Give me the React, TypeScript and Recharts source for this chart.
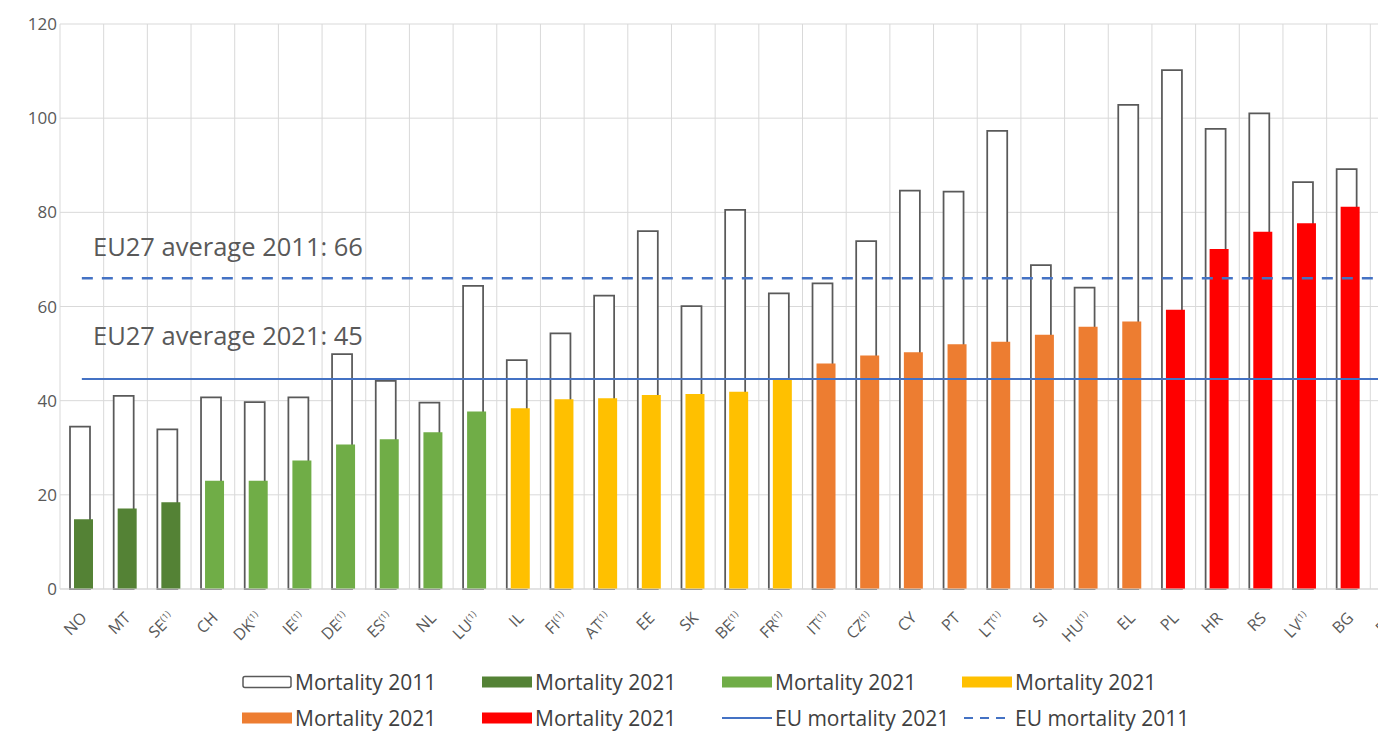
import React from 'react'
import {
  Bar, CartesianGrid, Cell, ComposedChart, Legend, Line, ReferenceLine, XAxis, YAxis,
} from 'recharts'

const countries = [
  'NO', 'MT', 'SE', 'CH', 'DK', 'IE', 'DE', 'ES', 'NL', 'LU', 'IL', 'FI', 'AT', 'EE', 'SK', 'BE',
  'FR', 'IT', 'CZ', 'CY', 'PT', 'LT', 'SI', 'HU', 'EL', 'PL', 'HR', 'RS', 'LV', 'BG', 'RO',
]
const footnoted = ['SE', 'DK', 'IE', 'DE', 'ES', 'LU', 'FI', 'AT', 'BE', 'FR', 'IT', 'CZ', 'LT', 'HU', 'LV']
const mortality2011 = [
  34.5, 41.0, 33.9, 40.7, 39.7, 40.7, 49.9, 44.2, 39.6, 64.4, 48.6, 54.3, 62.3, 76.0, 60.1, 80.5,
  62.8, 64.9, 73.9, 84.6, 84.4, 97.3, 68.8, 64.0, 102.8, 110.2, 97.7, 101.0, 86.4, 89.2, 96.0,
]
const mortality2021 = [
  14.8, 17.1, 18.4, 23.0, 23.0, 27.3, 30.7, 31.8, 33.3, 37.7, 38.4, 40.3, 40.5, 41.2, 41.4, 41.9,
  44.4, 47.9, 49.6, 50.3, 52.0, 52.5, 54.0, 55.7, 56.8, 59.3, 72.2, 75.9, 77.7, 81.2, 85.0,
]
// colour group of each country's 2021 bar
const groups = [
  0, 0, 0, 1, 1, 1, 1, 1, 1, 1, 2, 2, 2, 2, 2, 2,
  2, 3, 3, 3, 3, 3, 3, 3, 3, 4, 4, 4, 4, 4, 4,
]
const EU_2021 = 44.6
const EU_2011 = 66
const yTicks = [0, 20, 40, 60, 80, 100, 120]

const GROUP_COLORS = ['#548235', '#70ad47', '#ffc000', '#ed7d31', '#ff0000']
const BLUE = '#4472c4'
const GRID = '#d9d9d9'
const TEXT = '#595959'
const FONT = '"Open Sans", sans-serif'

const data = countries.map((c, i) => ({
  country: c,
  m2011: mortality2011[i],
  m2021: mortality2021[i],
  eu2021: EU_2021,
  eu2011: EU_2011,
}))

function CountryTick({ x, y, payload }: any) {
  const code = payload.value as string
  return (
    <g transform={`translate(${x + 2},${y + 18})`}>
      <text transform="rotate(-45)" textAnchor="end" dy="0.35em" fill={TEXT} fontSize={16} fontFamily={FONT}>
        {code}
        {footnoted.includes(code) && <tspan fontSize={9} dy={-6}>(1)</tspan>}
      </text>
    </g>
  )
}

function AvgLabel({ viewBox, text, dy }: any) {
  return (
    <text x={viewBox.x + 33} y={viewBox.y + dy} fill={TEXT} fontSize={25.5} fontFamily={FONT}>
      {text}
    </text>
  )
}

const legendItems = [
  { label: 'Mortality 2011', kind: 'outline', color: '#595959' },
  { label: 'Mortality 2021', kind: 'fill', color: GROUP_COLORS[0] },
  { label: 'Mortality 2021', kind: 'fill', color: GROUP_COLORS[1] },
  { label: 'Mortality 2021', kind: 'fill', color: GROUP_COLORS[2] },
  { label: 'Mortality 2021', kind: 'fill', color: GROUP_COLORS[3] },
  { label: 'Mortality 2021', kind: 'fill', color: GROUP_COLORS[4] },
  { label: 'EU mortality 2021', kind: 'line', color: BLUE },
  { label: 'EU mortality 2011', kind: 'dash', color: BLUE },
]

function Swatch({ kind, color }: { kind: string; color: string }) {
  return (
    <svg width={50} height={14} style={{ flex: 'none' }}>
      {kind === 'outline' && <rect x={1} y={1.5} width={48} height={11} fill="#fff" stroke={color} strokeWidth={1.5} rx={2} />}
      {kind === 'fill' && <rect x={0} y={1.5} width={50} height={11} fill={color} />}
      {kind === 'line' && <line x1={0} x2={50} y1={7} y2={7} stroke={color} strokeWidth={2} />}
      {kind === 'dash' && <line x1={2} x2={50} y1={7} y2={7} stroke={color} strokeWidth={2} strokeDasharray="9 7" />}
    </svg>
  )
}

function LegendBox() {
  return (
    <div
      style={{
        display: 'grid',
        gridTemplateColumns: 'repeat(4, 240px)',
        gridAutoRows: 36,
        paddingLeft: 242,
        paddingTop: 15,
        height: 80,
        boxSizing: 'border-box',
        fontFamily: FONT,
        fontSize: 21,
        color: '#404040',
      }}
    >
      {legendItems.map((it, i) => (
        <div key={i} style={{ display: 'flex', alignItems: 'center', gap: 3, whiteSpace: 'nowrap' }}>
          <Swatch kind={it.kind} color={it.color} />
          <span>{it.label}</span>
        </div>
      ))}
    </div>
  )
}

export default function App() {
  return (
    <div style={{ position: 'absolute', left: 0, top: 0, width: 1378, height: 731, overflow: 'hidden', background: '#fff' }}>
      <ComposedChart
        width={1420}
        height={731}
        data={data}
        margin={{ top: 24, right: 6, left: 8, bottom: 2 }}
        barGap={-16}
      >
        <CartesianGrid
          stroke={GRID}
          verticalCoordinatesGenerator={({ offset }: any) =>
            Array.from({ length: countries.length + 1 }, (_, i) => offset.left + (i * offset.width) / countries.length)
          }
        />
        <XAxis
          dataKey="country"
          interval={0}
          tickLine={false}
          axisLine={{ stroke: GRID }}
          height={60}
          tick={<CountryTick />}
        />
        <YAxis
          domain={[0, 120]}
          ticks={yTicks}
          width={52}
          axisLine={false}
          tickLine={false}
          tickSize={3}
          tickMargin={0}
          tick={{ fill: TEXT, fontSize: 17, fontFamily: FONT }}
        />
        <Bar dataKey="m2011" barSize={20} fill="#fff" stroke="#595959" strokeWidth={1.75} isAnimationActive={false} />
        <Bar dataKey="m2021" barSize={19} isAnimationActive={false}>
          {data.map((_, i) => (
            <Cell key={i} fill={GROUP_COLORS[groups[i]]} />
          ))}
        </Bar>
        <Line dataKey="eu2021" stroke={BLUE} strokeWidth={2} dot={false} activeDot={false} isAnimationActive={false} />
        <Line
          dataKey="eu2011"
          stroke={BLUE}
          strokeWidth={2.5}
          strokeDasharray="11 9"
          dot={false}
          activeDot={false}
          isAnimationActive={false}
        />
        <ReferenceLine y={EU_2011} stroke="none" label={<AvgLabel text="EU27 average 2011: 66" dy={-22} />} />
        <ReferenceLine y={EU_2021} stroke="none" label={<AvgLabel text="EU27 average 2021: 45" dy={-34} />} />
        <Legend
          verticalAlign="bottom"
          height={80}
          wrapperStyle={{ left: 0, width: 1378 }}
          content={<LegendBox />}
        />
      </ComposedChart>
    </div>
  )
}
